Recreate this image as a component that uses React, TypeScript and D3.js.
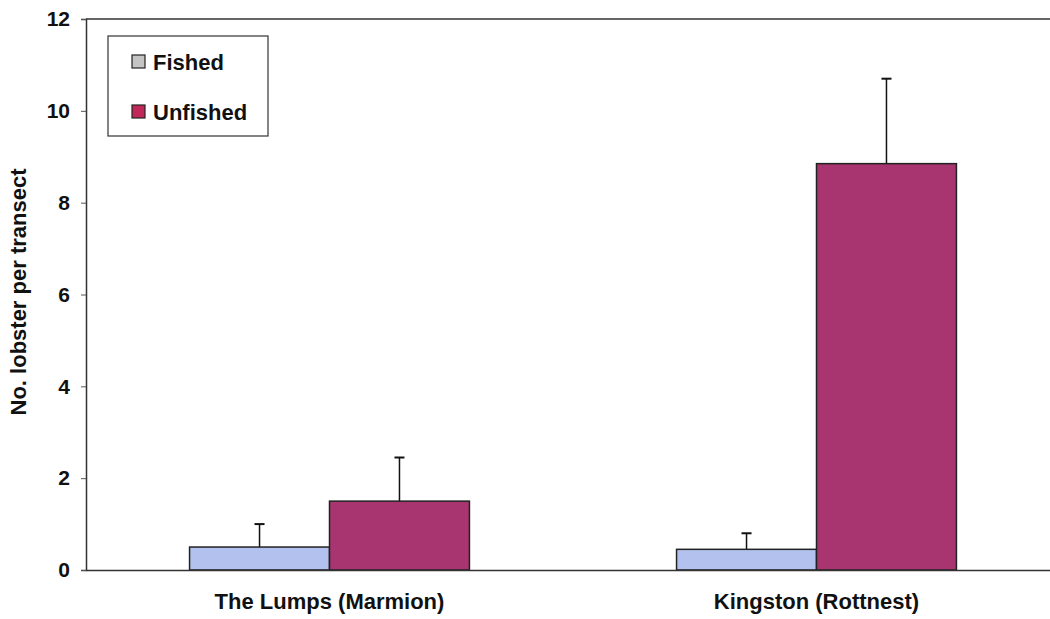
import React, { useEffect, useRef } from 'react';
import * as d3 from 'd3';

// sites on the x axis
const sites = ['The Lumps (Marmion)', 'Kingston (Rottnest)'];
const seriesNames = ['Fished', 'Unfished'];
// mean number of lobster per transect
const fishedMeans = [0.5, 0.45];
const unfishedMeans = [1.5, 8.85];
// upper error bar (mean + SE)
const fishedUpper = [1.0, 0.8];
const unfishedUpper = [2.45, 10.7];
const yTicks = [0, 2, 4, 6, 8, 10, 12];

const barColors = ['#b3c1ee', '#a83570'];
const legendColors = ['#c4c4c4', '#c0285a'];

const App: React.FC = () => {
  const svgRef = useRef<SVGSVGElement>(null);

  useEffect(() => {
    if (!svgRef.current) return;
    const svg = d3.select(svgRef.current);
    svg.selectAll('*').remove();

    const width = 1050;
    const height = 619;
    const margin = { top: 19, right: -10, bottom: 49, left: 86 };
    const innerW = width - margin.left - margin.right;
    const innerH = height - margin.top - margin.bottom;
    const font = '"Liberation Sans", Arial, sans-serif';

    const g = svg.append('g').attr('transform', `translate(${margin.left},${margin.top})`);

    const x = d3.scaleBand().domain(sites).range([0, innerW]);
    const inner = d3.scaleBand().domain(seriesNames).range([0, x.bandwidth()]).paddingOuter(0.74).paddingInner(0);
    const y = d3.scaleLinear().domain([0, 12]).range([innerH, 0]);

    // top frame line
    g.append('line')
      .attr('x1', 0).attr('x2', innerW)
      .attr('y1', 0).attr('y2', 0)
      .attr('stroke', '#333').attr('stroke-width', 1.5);

    const rows = sites.map((s, i) => ({
      site: s,
      vals: [
        { name: 'Fished', mean: fishedMeans[i], up: fishedUpper[i], color: barColors[0] },
        { name: 'Unfished', mean: unfishedMeans[i], up: unfishedUpper[i], color: barColors[1] },
      ],
    }));

    const groups = g.selectAll('.site')
      .data(rows)
      .join('g')
      .attr('class', 'site')
      .attr('transform', d => `translate(${x(d.site)},0)`);

    // error bars (upper only)
    groups.selectAll('.err')
      .data(d => d.vals)
      .join('g')
      .attr('class', 'err')
      .each(function (d) {
        const cx = (inner(d.name) || 0) + inner.bandwidth() / 2;
        const sel = d3.select(this);
        sel.append('line')
          .attr('x1', cx).attr('x2', cx)
          .attr('y1', y(d.mean)).attr('y2', y(d.up))
          .attr('stroke', '#111').attr('stroke-width', 1.5);
        sel.append('line')
          .attr('x1', cx - 5).attr('x2', cx + 5)
          .attr('y1', y(d.up)).attr('y2', y(d.up))
          .attr('stroke', '#111').attr('stroke-width', 2);
      });

    // bars
    groups.selectAll('.bar')
      .data(d => d.vals)
      .join('rect')
      .attr('class', 'bar')
      .attr('x', d => inner(d.name) || 0)
      .attr('y', d => y(d.mean))
      .attr('width', inner.bandwidth())
      .attr('height', d => innerH - y(d.mean))
      .attr('fill', d => d.color)
      .attr('stroke', '#222')
      .attr('stroke-width', 1.5);

    // y axis
    const yAxis = g.append('g')
      .call(d3.axisLeft(y).tickValues(yTicks).tickSize(5).tickPadding(11).tickFormat(d3.format('d')));
    yAxis.select('.domain').attr('stroke', '#333').attr('stroke-width', 1.5);
    yAxis.selectAll('.tick line').attr('stroke', '#555');
    yAxis.selectAll('text')
      .attr('font-family', font)
      .attr('font-weight', 'bold')
      .attr('font-size', 21)
      .attr('fill', '#111');

    // x axis
    const xAxis = g.append('g')
      .attr('transform', `translate(0,${innerH})`)
      .call(d3.axisBottom(x).tickSize(0).tickPadding(23));
    xAxis.select('.domain').attr('stroke', '#333').attr('stroke-width', 1.5);
    xAxis.selectAll('text')
      .attr('font-family', font)
      .attr('font-weight', 'bold')
      .attr('font-size', 22)
      .attr('fill', '#111');

    // y axis title
    svg.append('text')
      .attr('transform', 'translate(26,292) rotate(-90)')
      .attr('text-anchor', 'middle')
      .attr('font-family', font)
      .attr('font-weight', 'bold')
      .attr('font-size', 22)
      .attr('fill', '#111')
      .text('No. lobster per transect');

    // legend
    const legend = svg.append('g').attr('transform', 'translate(108,36)');
    legend.append('rect')
      .attr('width', 160).attr('height', 100)
      .attr('fill', '#fff')
      .attr('stroke', '#333').attr('stroke-width', 1.2);
    seriesNames.forEach((name, i) => {
      const ly = 26 + i * 50;
      legend.append('rect')
        .attr('x', 24).attr('y', ly - 7)
        .attr('width', 13).attr('height', 13)
        .attr('fill', legendColors[i])
        .attr('stroke', '#222').attr('stroke-width', 1.2);
      legend.append('text')
        .attr('x', 45).attr('y', ly + 8)
        .attr('font-family', font)
        .attr('font-weight', 'bold')
        .attr('font-size', 22)
        .attr('fill', '#111')
        .text(name);
    });
  }, []);

  return (
    <svg
      ref={svgRef}
      width={1050}
      height={619}
      style={{ position: 'absolute', left: 0, top: 0, background: '#fff' }}
    />
  );
};

export default App;
